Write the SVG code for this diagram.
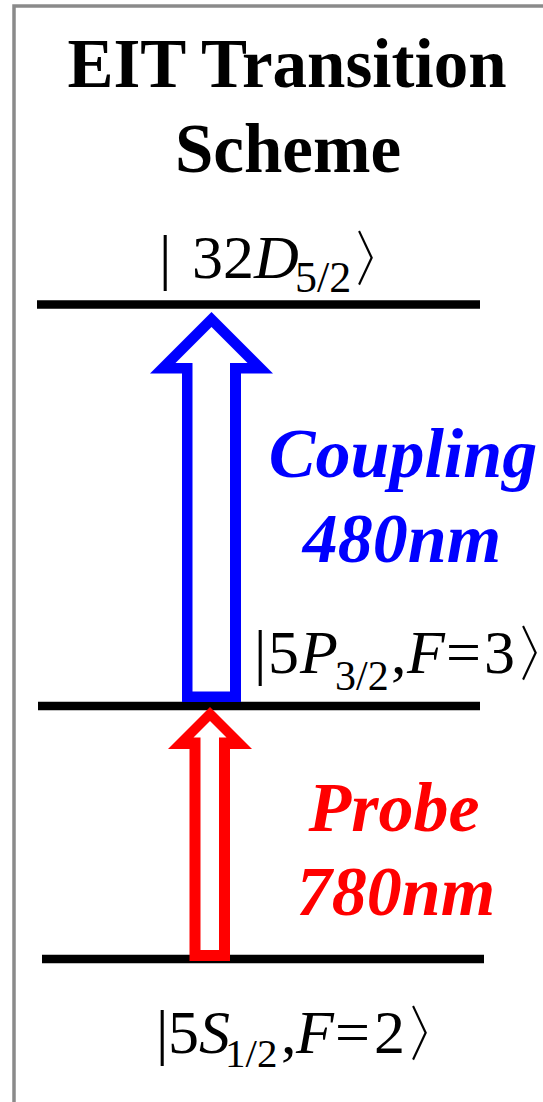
<svg xmlns="http://www.w3.org/2000/svg" width="543" height="1102" viewBox="0 0 543 1102">
<style>
.title{font-size:69px;font-weight:bold;text-anchor:middle}
.lab{font-size:62px}
.it{font-style:italic}
.lvl{stroke:#000;stroke-width:8.5;fill:none}
.beam{font-size:70px;font-weight:bold;font-style:italic;text-anchor:middle}
</style>
<rect x="0" y="0" width="543" height="1102" fill="#fff"/>
<rect x="14" y="6" width="700" height="1200" fill="none" stroke="#8a8a8a" stroke-width="3.5"/>
<g id="title" font-family="Liberation Serif, Times New Roman, serif" fill="#000">
<text class="title" x="287" y="87">EIT Transition</text>
<text class="title" x="288" y="172">Scheme</text>
</g>
<g id="level-32D">
<line class="lvl" x1="37" y1="304.5" x2="480" y2="304.5"/>
<text class="lab" font-family="Liberation Serif, Times New Roman, serif" fill="#000" y="278"><tspan x="159">|</tspan><tspan x="192">32</tspan><tspan x="254" class="it">D</tspan><tspan x="295" y="292" font-size="44">5/2</tspan><tspan x="350" y="280" font-family="DejaVu Serif, serif">〉</tspan></text>
</g>
<g id="level-5P">
<line class="lvl" x1="38" y1="706" x2="480" y2="706"/>
<text class="lab" font-family="Liberation Serif, Times New Roman, serif" fill="#000" y="673"><tspan x="254">|</tspan><tspan x="268">5</tspan><tspan x="300" class="it">P</tspan><tspan x="335" y="690" font-size="42">3/2</tspan><tspan x="391" y="673">,</tspan><tspan x="407" class="it">F</tspan><tspan x="446">=</tspan><tspan x="484">3</tspan><tspan x="514" y="675" font-family="DejaVu Serif, serif">〉</tspan></text>
</g>
<g id="level-5S">
<line class="lvl" x1="42" y1="959" x2="484" y2="959"/>
<text class="lab" font-family="Liberation Serif, Times New Roman, serif" fill="#000" y="1053"><tspan x="156">|</tspan><tspan x="168">5</tspan><tspan x="199" class="it">S</tspan><tspan x="225" y="1067" font-size="41">1/2</tspan><tspan x="281" y="1053">,</tspan><tspan x="296" class="it">F</tspan><tspan x="335">=</tspan><tspan x="374">2</tspan><tspan x="404" y="1055" font-family="DejaVu Serif, serif">〉</tspan></text>
</g>
<g id="connectors">
<g id="coupling">
<path fill="#0000ff" fill-rule="evenodd" d="M211.5,312 L273,373.5 L241,373.5 L241,702 L182,702 L182,373.5 L150,373.5 Z M211.5,327 L175.5,363 L192.5,363 L192.5,691.5 L230,691.5 L230,363 L247.5,363 Z"/>
<text class="beam" font-family="Liberation Serif, Times New Roman, serif" fill="#0000ff" x="403" y="477">Coupling</text>
<text class="beam" font-family="Liberation Serif, Times New Roman, serif" fill="#0000ff" x="402" y="562">480nm</text>
</g>
<g id="probe">
<path fill="#ff0000" fill-rule="evenodd" d="M210,707 L252,749 L230,749 L230,961 L189.5,961 L189.5,749 L168,749 Z M210,721 L193.5,737.5 L200.5,737.5 L200.5,950 L219,950 L219,737.5 L226.5,737.5 Z"/>
<text class="beam" font-family="Liberation Serif, Times New Roman, serif" fill="#ff0000" x="394" y="831">Probe</text>
<text class="beam" font-family="Liberation Serif, Times New Roman, serif" fill="#ff0000" x="396" y="915">780nm</text>
</g>
</g>
</svg>
